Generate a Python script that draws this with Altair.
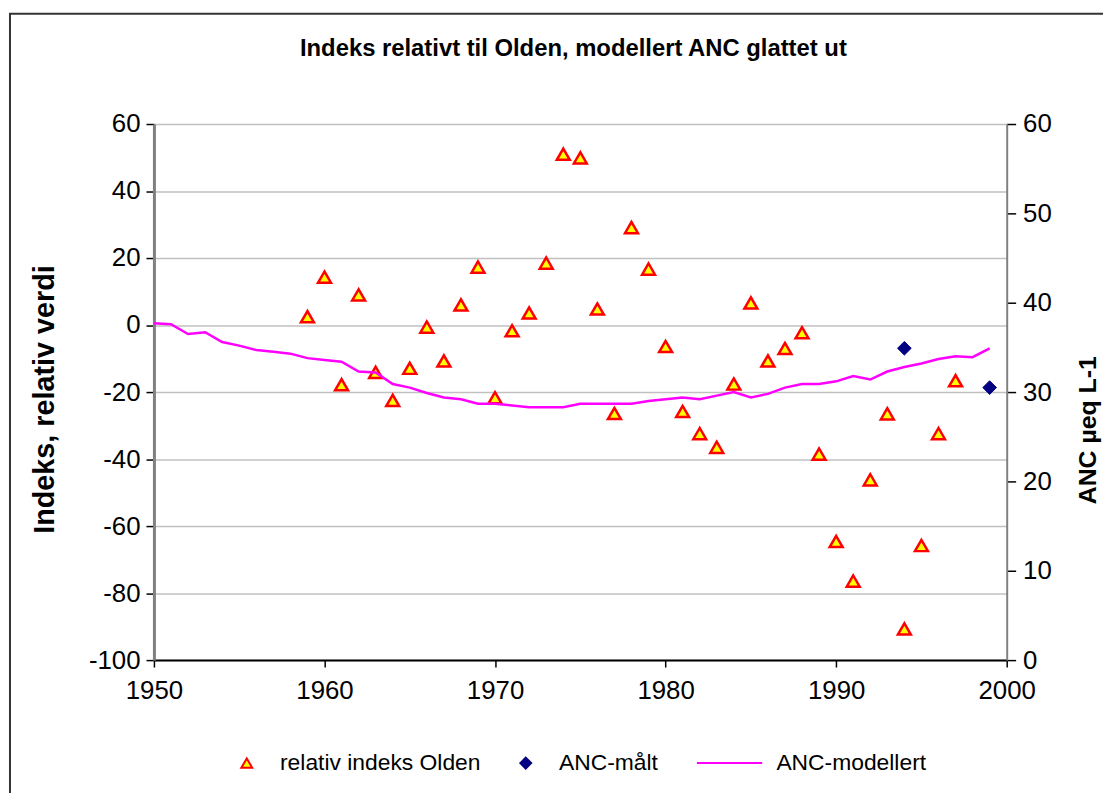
import altair as alt
import pandas as pd

# ---- data ----
idx_years = list(range(1959, 1998))
idx_values = [2.5, 14.3, -17.8, 9.0, -14.1, -22.5, -12.9, -0.6, -10.7, 6.0,
              17.3, -21.7, -1.7, 3.6, 18.5, 51.0, 49.9, 4.8, -26.4, 29.1,
              16.7, -6.4, -25.8, -32.4, -36.5, -17.6, 6.6, -10.7, -7.0, -2.3,
              -38.5, -64.6, -76.4, -46.2, -26.5, -90.7, -65.8, -32.4, -16.6]

meas_years = [1994, 1999]
meas_values = [34.9, 30.5]

mod_years = list(range(1950, 2000))
mod_values = [37.7, 37.6, 36.5, 36.7, 35.6, 35.2, 34.7, 34.5, 34.3, 33.8,
              33.6, 33.4, 32.3, 32.2, 30.9, 30.5, 29.9, 29.4, 29.2, 28.7,
              28.7, 28.5, 28.3, 28.3, 28.3, 28.7, 28.7, 28.7, 28.7, 29.0,
              29.2, 29.4, 29.2, 29.6, 30.0, 29.4, 29.8, 30.5, 30.9, 30.9,
              31.2, 31.8, 31.4, 32.3, 32.8, 33.2, 33.7, 34.0, 33.9, 34.9]

series_names = ["relativ indeks Olden", "ANC-målt", "ANC-modellert"]
fill_colors = ["#FFFF00", "#000080", "#FF00FF"]
stroke_colors = ["#FF0000", "#000080", "#FF00FF"]
# legend symbol for the modelled line: a long horizontal stroke
shapes = ["triangle-up", "diamond", "M-8.5,0L3.5,0"]

df_idx = pd.DataFrame({"year": idx_years, "val": idx_values, "series": series_names[0]})
df_meas = pd.DataFrame({"year": meas_years, "val": meas_values, "series": series_names[1]})
df_mod = pd.DataFrame({"year": mod_years, "val": mod_values, "series": series_names[2]})

FONT = "Liberation Sans"
PLAIN = "datum.value + ''"

xenc = alt.X("year:Q", scale=alt.Scale(domain=[1950, 2000], nice=False),
             axis=alt.Axis(values=[1950, 1960, 1970, 1980, 1990, 2000], labelExpr=PLAIN,
                           title=None, grid=False, domainColor="#000000", domainWidth=2,
                           tickColor="#000000", tickSize=7, tickWidth=1.5,
                           labelFontSize=26, labelFont=FONT, labelColor="#000000",
                           labelPadding=11, labelFlush=False))


def make_legend():
    return alt.Legend(title=None, orient="none", legendX=82, legendY=632,
                      direction="horizontal", labelFont=FONT, labelFontSize=23,
                      labelColor="#000000", labelLimit=400, symbolSize=120,
                      symbolStrokeWidth=2, labelOffset=22, columnPadding=34)


fill_enc = alt.Fill("series:N", scale=alt.Scale(domain=series_names, range=fill_colors),
                    legend=make_legend())
stroke_enc = alt.Stroke("series:N", scale=alt.Scale(domain=series_names, range=stroke_colors),
                        legend=make_legend())
shape_enc = alt.Shape("series:N", scale=alt.Scale(domain=series_names, range=shapes),
                      legend=make_legend())

left_axis = alt.Axis(values=list(range(-100, 61, 20)), labelExpr=PLAIN,
                     title="Indeks, relativ verdi",
                     orient="left", grid=True, gridColor="#C0C0C0", gridWidth=1.5,
                     domainColor="#808080", domainWidth=3, tickColor="#000000",
                     tickSize=8, tickWidth=1.5, labelFontSize=26, labelFont=FONT,
                     labelColor="#000000", labelPadding=6,
                     titleFont=FONT, titleFontSize=29, titleFontWeight="bold",
                     titleColor="#000000", titleAngle=270, titleX=-110, titleY=277,
                     titleAlign="center", titleBaseline="middle")

right_axis = alt.Axis(values=list(range(0, 61, 10)), labelExpr=PLAIN,
                      title="ANC µeq L-1",
                      orient="right", grid=False,
                      domainColor="#808080", domainWidth=2, tickColor="#000000",
                      tickSize=9, tickWidth=1.5, labelFontSize=26, labelFont=FONT,
                      labelColor="#000000", labelPadding=7,
                      titleFont=FONT, titleFontSize=25, titleFontWeight="bold",
                      titleColor="#000000", titleAngle=270, titleX=81, titleY=308,
                      titleAlign="center", titleBaseline="middle")

tri = alt.Chart(df_idx).mark_point(filled=True, size=170, strokeWidth=2.5, opacity=1).encode(
    x=xenc,
    y=alt.Y("val:Q", scale=alt.Scale(domain=[-100, 60], nice=False), axis=left_axis),
    fill=fill_enc, stroke=stroke_enc, shape=shape_enc,
)

right_scale = alt.Scale(domain=[0, 60], nice=False)

dia = alt.Chart(df_meas).mark_point(filled=True, size=190, strokeWidth=1, opacity=1).encode(
    x=xenc,
    y=alt.Y("val:Q", scale=right_scale, axis=right_axis),
    fill=fill_enc, stroke=stroke_enc, shape=shape_enc,
)

line = alt.Chart(df_mod).mark_line(strokeWidth=2.5).encode(
    x=xenc,
    y=alt.Y("val:Q", scale=right_scale, axis=right_axis),
    stroke=stroke_enc,
)

right_layer = alt.layer(dia, line)

frame = alt.Chart(df_idx.head(1)).mark_rect(fillOpacity=0, stroke="#333333", strokeWidth=2).encode(
    x=alt.value(-145), x2=alt.value(1200), y=alt.value(-111), y2=alt.value(900)
)

chart = alt.layer(frame, tri, right_layer).resolve_scale(y="independent").properties(
    width=859, height=540,
    background="white",
    padding={"left": 147, "top": 114, "right": 97, "bottom": 131},
    autosize=alt.AutoSizeParams(type="none"),
    title=alt.TitleParams("Indeks relativt til Olden, modellert ANC glattet ut",
                          font=FONT, fontSize=24, fontWeight="bold", color="#000000",
                          anchor="middle", frame="group", offset=-48, dx=-7),
).configure_view(stroke=None)

chart.save("out.html", embed_options={"renderer": "svg", "actions": False})
